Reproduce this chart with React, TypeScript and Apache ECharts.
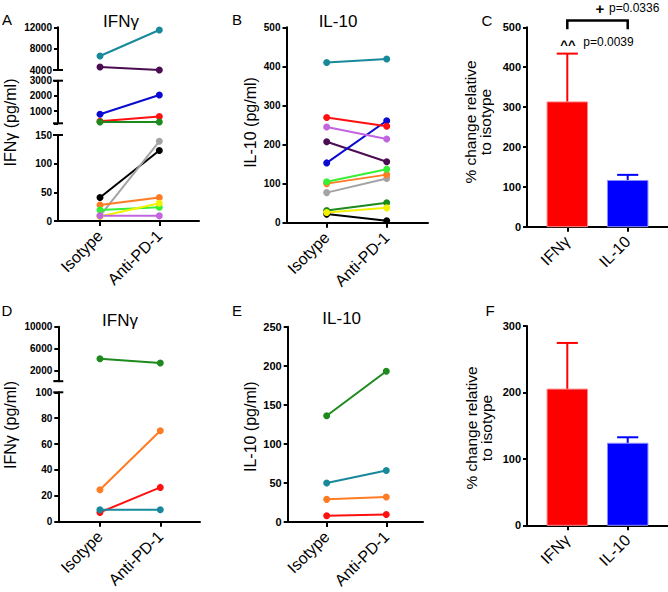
import React, { useEffect, useRef } from 'react';
import * as echarts from 'echarts';

const FONT = '"Liberation Sans", Arial, sans-serif';

const groups = ['Isotype', 'Anti-PD-1'];
const cytokines = ['IFNγ', 'IL-10'];

// Cohort 1 (panels A, B): one colour per animal
const cohort1Colors = ['#17899b', '#4b0c52', '#0a0ad2', '#ff1010', '#1c8a1c', '#000000', '#a3a3a3', '#ff7b24', '#35f035', '#f2f200', '#c264e0'];
const aIsotype = [6630, 4560, 790, 340, 280, 41, 9, 28, 19, 8, 9];
const aAntiPD1 = [11500, 4000, 2060, 640, 290, 123, 139, 41, 24, 31, 9];
const bIsotype = [410, 207, 153, 269, 31, 22, 77, 100, 105, 26, 245];
const bAntiPD1 = [419, 156, 261, 247, 51, 5, 113, 123, 137, 38, 214];

// Cohort 2 (panels D, E)
const cohort2Colors = ['#1c8a1c', '#ff7b24', '#ff1010', '#17899b'];
const dIsotype = [4130, 24.7, 7.2, 9.3];
const dAntiPD1 = [3340, 70.3, 26.5, 9.3];
const eIsotype = [136, 29, 8, 50];
const eAntiPD1 = [193, 32, 9.5, 66];

// % change relative to isotype (mean, SEM)
const cMean = [313, 116];
const cSem = [121, 14];
const fMean = [205, 123.5];
const fSem = [69.5, 9];
const barColors = ['#ff0000', '#0000ff'];
const barEdge = ['#ff8c8c', '#8c8cff'];

// tick labels on broken axes
const aMiddleTicks = [1000, 2000, 3000];
const dUpperTicks = [2000, 6000, 10000];

function grid(left: number, top: number, width: number, height: number) {
  return { left, top, width, height, containLabel: false, outerBoundsMode: 'none' };
}

function xAx(gridIndex: number, min: number, max: number, show: boolean, labels: string[]) {
  return {
    type: 'value', gridIndex, min, max, show,
    axisLine: { show, onZero: false, lineStyle: { color: '#000', width: 2 } },
    axisTick: { show, customValues: [0, 1], length: 5, lineStyle: { color: '#000', width: 2 } },
    axisLabel: {
      show, customValues: [0, 1], rotate: 45, margin: 12, fontSize: 16, color: '#000', fontFamily: FONT,
      formatter: (v: number) => labels[Math.round(v)] ?? '',
    },
    splitLine: { show: false },
  };
}

function yAx(gridIndex: number, min: number, max: number, fontSize: number, extra: any = {}) {
  const { labels, ticks, interval } = extra;
  return {
    type: 'value', gridIndex, min, max, interval,
    axisLine: { show: true, onZero: false, lineStyle: { color: '#000', width: 2 } },
    axisTick: { show: true, length: 4, customValues: ticks, lineStyle: { color: '#000', width: 2 } },
    axisLabel: {
      show: true, margin: 6, fontSize, fontWeight: 'bold', color: '#000', fontFamily: FONT, customValues: labels,
      formatter: (v: number) => String(v),
    },
    splitLine: { show: false },
  };
}

function paired(iso: number[], anti: number[], colors: string[], axisFor: (i: number) => number) {
  return iso.map((v, i) => ({
    type: 'line', xAxisIndex: axisFor(i), yAxisIndex: axisFor(i),
    data: [[0, v], [1, anti[i]]],
    symbol: 'circle', symbolSize: 7, silent: true,
    lineStyle: { color: colors[i], width: 2 },
    itemStyle: { color: colors[i] },
  }));
}

// short marks across the axis where a y axis is broken
function breakMarks(axis: number, xMin: number, values: number[]) {
  return {
    type: 'custom', xAxisIndex: axis, yAxisIndex: axis, silent: true, clip: false,
    data: values.map((v) => [xMin, v]),
    renderItem: (_p: any, api: any) => {
      const p = api.coord([api.value(0), api.value(1)]);
      return { type: 'line', shape: { x1: p[0] - 5, y1: p[1], x2: p[0] + 5, y2: p[1] }, style: { stroke: '#000', lineWidth: 2 } };
    },
  };
}

function barSeries(axis: number, mean: number[], sem: number[]) {
  return {
    type: 'custom', xAxisIndex: axis, yAxisIndex: axis, silent: true, clip: false,
    data: mean.map((m, i) => [i, m, sem[i]]),
    renderItem: (params: any, api: any) => {
      const x = api.value(0), v = api.value(1), e = api.value(2);
      const base = api.coord([x, 0]);
      const top = api.coord([x, v]);
      const et = api.coord([x, v + e]);
      const w = api.size([0.67, 0])[0];
      const cap = api.size([0.35, 0])[0];
      const c = barColors[params.dataIndex];
      return {
        type: 'group',
        children: [
          { type: 'line', shape: { x1: top[0], y1: top[1], x2: et[0], y2: et[1] }, style: { stroke: c, lineWidth: 2 } },
          { type: 'line', shape: { x1: et[0] - cap / 2, y1: et[1], x2: et[0] + cap / 2, y2: et[1] }, style: { stroke: c, lineWidth: 2 } },
          { type: 'rect', shape: { x: base[0] - w / 2, y: top[1], width: w, height: base[1] - top[1] }, style: { fill: c, stroke: barEdge[params.dataIndex], lineWidth: 1 } },
        ],
      };
    },
  };
}

function annotationSeries(axis: number) {
  return {
    type: 'custom', xAxisIndex: axis, yAxisIndex: axis, silent: true, clip: false,
    data: [[0, 1]],
    renderItem: (_p: any, api: any) => {
      const a = api.value(0), b = api.value(1);
      const p1 = api.coord([a, 495]);
      const p2 = api.coord([a, 517]);
      const p3 = api.coord([b, 517]);
      const p4 = api.coord([b, 495]);
      const plus = api.coord([0.54, 548]);
      const pv1 = api.coord([0.69, 548]);
      const caret = api.coord([0.01, 458]);
      const pv2 = api.coord([0.265, 464]);
      return {
        type: 'group',
        children: [
          { type: 'polyline', shape: { points: [p1, p2, p3, p4] }, style: { stroke: '#000', lineWidth: 2.5, fill: 'none' } },
          { type: 'text', x: plus[0], y: plus[1], style: { text: '+', fill: '#000', fontSize: 15, fontWeight: 'bold', fontFamily: FONT, align: 'center', verticalAlign: 'middle' } },
          { type: 'text', x: pv1[0], y: pv1[1], style: { text: 'p=0.0336', fill: '#000', fontSize: 12, fontFamily: FONT, align: 'left', verticalAlign: 'middle' } },
          { type: 'text', x: caret[0], y: caret[1], style: { text: '^^', fill: '#000', fontSize: 13, fontWeight: 'bold', fontFamily: FONT, align: 'center', verticalAlign: 'middle' } },
          { type: 'text', x: pv2[0], y: pv2[1], style: { text: 'p=0.0039', fill: '#000', fontSize: 12, fontFamily: FONT, align: 'left', verticalAlign: 'middle' } },
        ],
      };
    },
  };
}

function label(text: string, x: number, y: number, size: number, rotate = false) {
  return {
    type: 'text', x, y, rotation: rotate ? Math.PI / 2 : 0,
    style: { text, fill: '#000', fontSize: size, fontFamily: FONT, align: 'center', verticalAlign: 'middle', lineHeight: 15 },
  };
}

export default function App() {
  const ref = useRef<HTMLDivElement>(null);
  useEffect(() => {
    if (!ref.current) return;
    const chart = echarts.init(ref.current, null, { renderer: 'svg' });

    const aSeg = (i: number) => (aIsotype[i] >= 4000 ? 0 : aIsotype[i] >= 200 ? 1 : 2);
    const dSeg = (i: number) => (dIsotype[i] >= 1000 ? 5 : 6);

    chart.setOption({
      animation: false,
      backgroundColor: '#fff',
      grid: [
        grid(58, 27.3, 141, 42.7),      // 0 A upper
        grid(58, 80.7, 141, 42.6),      // 1 A middle
        grid(58, 135, 141, 86),         // 2 A lower
        grid(286.5, 27.3, 141.5, 195.4),// 3 B
        grid(527, 27.3, 141, 199.4),    // 4 C
        grid(58.3, 326.7, 141.7, 54.5), // 5 D upper
        grid(58.3, 392.3, 141.7, 129.4),// 6 D lower
        grid(287.7, 326.7, 135.3, 195.3),// 7 E
        grid(527, 326, 141, 199.3),     // 8 F
      ],
      xAxis: [
        xAx(0, -0.708, 1.669, false, groups),
        xAx(1, -0.708, 1.669, false, groups),
        xAx(2, -0.708, 1.669, true, groups),
        xAx(3, -0.67, 1.688, true, groups),
        xAx(4, -0.667, 1.667, true, cytokines),
        xAx(5, -0.69, 1.658, false, groups),
        xAx(6, -0.69, 1.658, true, groups),
        xAx(7, -0.654, 1.616, true, groups),
        xAx(8, -0.667, 1.667, true, cytokines),
      ],
      yAxis: [
        yAx(0, 4000, 12000, 10, { interval: 4000 }),
        yAx(1, 200, 3000, 10, { labels: aMiddleTicks, ticks: [200, ...aMiddleTicks] }),
        yAx(2, 0, 150, 10, { interval: 50 }),
        yAx(3, 0, 500, 10, { interval: 100 }),
        yAx(4, 0, 500, 11, { interval: 100 }),
        yAx(5, 0, 10000, 10, { labels: dUpperTicks, ticks: [0, ...dUpperTicks] }),
        yAx(6, 0, 100, 10, { interval: 20 }),
        yAx(7, 0, 250, 11, { interval: 50 }),
        yAx(8, 0, 300, 11, { interval: 100 }),
      ],
      series: [
        ...paired(aIsotype, aAntiPD1, cohort1Colors, aSeg),
        breakMarks(0, -0.708, [4000]),
        breakMarks(1, -0.708, [200, 3000]),
        breakMarks(2, -0.708, [150]),
        ...paired(bIsotype, bAntiPD1, cohort1Colors, () => 3),
        barSeries(4, cMean, cSem),
        annotationSeries(4),
        ...paired(dIsotype, dAntiPD1, cohort2Colors, dSeg),
        breakMarks(5, -0.69, [0]),
        breakMarks(6, -0.69, [100]),
        ...paired(eIsotype, eAntiPD1, cohort2Colors, () => 7),
        barSeries(8, fMean, fSem),
      ],
      graphic: [
        label('A', 7, 19, 15),
        label('IFNγ', 121, 21, 17),
        label('IFNγ (pg/ml)', 10, 122.5, 16, true),
        label('B', 237, 19, 15),
        label('IL-10', 338, 21, 17),
        label('IL-10 (pg/ml)', 250, 122.5, 16, true),
        label('C', 487, 20, 15),
        label('% change relative\nto isotype', 478, 122, 15.5, true),
        label('D', 7, 310, 15),
        label('IFNγ', 120, 320, 17),
        label('IFNγ (pg/ml)', 10, 425, 16, true),
        label('E', 237, 310, 15),
        label('IL-10', 341.7, 318, 17),
        label('IL-10 (pg/ml)', 250, 426.7, 16, true),
        label('F', 490, 310, 15),
        label('% change relative\nto isotype', 479, 428, 15.5, true),
      ],
    });
    return () => chart.dispose();
  }, []);
  return <div ref={ref} style={{ position: 'absolute', left: 0, top: 0, width: 668, height: 592 }} />;
}
